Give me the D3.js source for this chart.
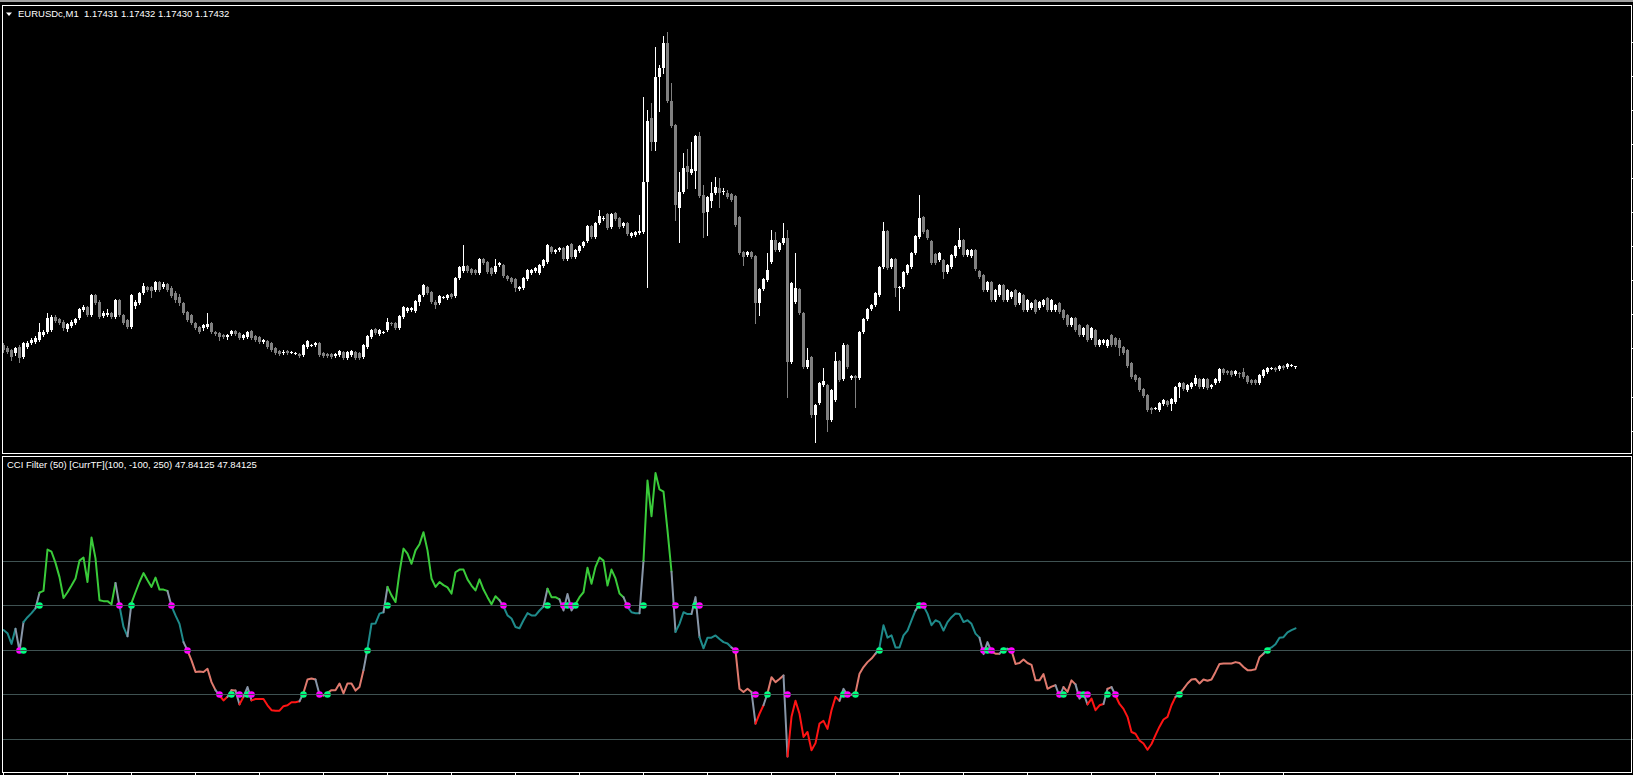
<!DOCTYPE html>
<html lang="en">
<head>
<meta charset="utf-8">
<title>EURUSDc,M1 - CCI Filter</title>
<script src="https://d3js.org/d3.v7.min.js"></script>
<style>
  html, body { margin: 0; padding: 0; background: #000; overflow: hidden; }
  svg { display: block; }
  text { font-family: "Liberation Sans", Arial, sans-serif; font-size: 9.5px; fill: #fff; }
</style>
</head>
<body>
<script>
// M1 bars, prices kept as points (0.00001) above 1.17000
var base = 1.17;

var opens = [
  453,450,448,445,451,441,451,455,456,458, 463,466,468,481,479,476,469,472,475,480,
  488,491,483,503,496,482,483,485,481,498, 483,478,471,492,495,505,511,511,508,516,
  511,514,510,505,501,495,486,483,475,471, 470,471,475,466,465,463,461,464,467,465,
  460,461,467,462,461,456,457,455,450,447, 445,447,446,445,444,443,451,453,453,455,
  445,444,444,442,443,446,440,443,446,445, 441,451,461,469,464,466,468,475,475,470,
  481,487,488,487,496,503,511,506,496,495, 501,500,504,502,520,527,532,529,528,525,
  539,536,530,526,533,533,522,520,519,509, 510,519,525,527,525,532,536,551,546,548,
  550,539,554,541,547,552,557,572,561,575, 580,584,571,585,580,572,575,562,563,565,
  566,616,680,656,721,730,755,697,673,590, 606,632,625,627,662,603,586,597,605,610,
  607,605,604,602,581,546,543,546,542,495, 509,518,536,558,548,555,560,436,496,509,
  485,431,441,383,395,413,413,378,398,437, 419,453,420,422,420,466,479,489,493,503,
  531,567,531,539,510,511,525,531,545,561, 581,568,557,544,538,538,526,531,542,551,
  558,543,542,548,527,523,508,516,498,503, 513,498,501,508,495,503,488,490,498,490,
  493,500,488,488,495,488,483,473,480,473, 463,473,460,468,453,455,452,463,460,458,
  451,448,435,423,420,409,403,390,390,388, 394,397,394,396,411,415,408,411,414,419,
  411,419,411,415,417,429,427,427,424,425, 426,422,418,418,415,422,426,430,430,429,
  432,431,433,431
];
var highs = [
  455,452,449,451,453,456,457,460,462,475, 468,485,483,483,480,478,475,478,480,490,
  493,492,504,504,498,487,489,486,499,499, 484,479,504,498,506,515,512,512,517,517,
  516,515,512,507,504,496,487,484,476,472, 474,485,476,467,466,464,464,468,468,466,
  464,467,468,463,462,459,458,456,451,448, 448,448,447,446,445,454,458,454,456,456,
  446,445,445,445,448,447,447,448,447,446, 454,463,469,470,469,467,480,476,476,483,
  492,491,491,498,504,514,512,507,498,503, 502,504,505,521,532,553,533,530,529,540,
  540,537,531,539,536,534,523,521,520,512, 521,529,529,531,534,539,554,552,549,551,
  551,553,555,549,553,557,573,573,576,588, 582,585,585,586,581,576,576,566,567,583,
  701,688,695,751,733,762,766,715,674,626, 645,649,656,663,666,613,602,616,621,620,
  610,608,605,603,582,547,547,547,543,510, 520,545,568,566,556,575,568,516,545,510,
  486,450,442,394,416,430,414,409,446,438, 455,454,423,423,467,480,490,494,506,532,
  576,568,540,540,512,527,534,546,563,603, 582,569,558,545,546,539,534,544,553,570,
  559,549,549,549,528,524,517,517,509,514, 514,509,507,509,506,504,499,496,499,497,
  499,501,499,494,496,489,484,481,481,474, 471,474,471,469,459,459,459,464,461,460,
  452,449,436,424,421,410,404,391,391,396, 399,398,400,412,416,416,414,416,423,420,
  420,420,414,420,430,430,428,428,428,426, 430,423,419,419,424,429,431,431,431,433,
  433,435,434,432
];
var lows = [
  446,445,438,443,436,440,450,454,455,457, 462,465,467,476,474,468,467,471,474,479,
  487,482,482,494,480,481,482,480,480,482, 474,470,470,490,494,504,507,501,507,507,
  510,507,501,496,493,484,477,474,469,465, 468,470,465,463,458,460,459,463,463,459,
  459,460,459,457,455,455,450,447,444,443, 444,444,445,444,441,442,450,452,452,442,
  441,441,440,441,442,439,439,442,439,439, 440,450,460,464,463,465,467,473,469,469,
  480,486,487,486,493,502,504,495,490,494, 500,499,500,501,519,526,526,524,524,524,
  534,525,523,525,532,521,518,515,507,508, 509,518,524,526,524,531,535,545,545,547,
  538,538,540,540,546,551,556,560,560,574, 578,569,570,578,570,571,563,561,562,564,
  565,511,648,648,687,725,696,671,578,556, 605,610,624,610,601,561,563,591,604,591,
  604,600,597,572,544,533,542,540,475,483, 508,517,535,547,547,554,401,435,495,484,
  430,430,381,356,394,412,367,377,397,417, 418,430,419,391,419,465,478,488,492,502,
  530,529,530,502,488,510,524,530,544,560, 565,559,534,534,537,520,525,530,541,550,
  542,542,541,528,520,507,507,497,497,502, 497,497,500,492,494,487,487,489,485,489,
  492,487,487,487,485,479,472,472,467,462, 462,457,459,452,452,454,451,452,452,443,
  444,431,420,417,407,401,387,385,389,387, 393,392,388,395,401,408,407,410,413,410,
  410,409,410,414,416,424,424,422,423,421, 420,415,414,414,414,421,425,429,427,428,
  429,430,432,430
];
var closes = [
  448,446,441,450,440,455,455,458,460,466, 466,480,481,477,475,470,474,476,479,489,
  491,483,503,495,481,485,485,481,498,483, 475,471,503,496,505,512,508,507,516,508,
  514,508,502,498,495,485,478,475,470,466, 473,474,466,464,461,461,463,467,464,460,
  463,466,460,458,456,458,451,448,445,444, 446,445,446,445,442,453,457,453,455,443,
  442,442,441,444,447,440,446,447,440,440, 453,462,468,465,468,466,476,474,470,482,
  491,490,490,497,503,513,505,496,493,502, 501,503,501,520,531,532,527,525,525,539,
  535,526,524,532,535,522,519,516,510,511, 520,528,528,530,533,538,553,546,548,550,
  539,552,541,548,552,556,572,561,575,582, 580,570,584,579,571,575,564,565,566,567,
  616,677,656,721,730,755,697,672,593,606, 630,626,629,662,602,585,601,605,611,605,
  607,601,598,573,545,541,546,541,495,509, 519,528,558,548,555,560,436,515,510,485,
  431,438,383,393,415,417,378,408,437,418, 453,431,422,420,466,479,489,493,505,531,
  567,530,539,510,511,526,533,545,562,580, 566,560,535,535,545,526,533,543,552,558,
  543,548,548,529,521,508,516,498,508,513, 498,508,506,493,505,488,498,495,486,496,
  498,488,498,493,486,480,473,480,468,463, 470,458,470,453,458,458,458,453,453,450,
  445,432,421,418,408,402,388,388,390,395, 398,393,399,411,415,409,413,415,420,411,
  419,410,413,419,429,425,425,423,427,424, 421,416,415,415,423,428,430,430,428,432,
  430,434,433,432
];

// CCI(50) value per bar
var cci = [
  44,37,13,47,-3,62,73,82,93,128, 132,225,220,195,163,116,129,144,160,200,
  207,152,252,205,111,109,109,102,150,98, 51,30,105,129,152,172,156,141,162,135,
  135,132,98,77,58,17,-2,-24,-50,-49, -50,-43,-73,-91,-103,-114,-106,-91,-92,-123,
  -106,-84,-114,-111,-111,-111,-125,-136,-137,-137, -127,-125,-118,-118,-116,-97,-67,-65,-67,-101,
  -103,-97,-91,-91,-76,-98,-76,-76,-92,-84, -46,2,58,59,81,84,141,122,107,174,
  227,216,193,223,237,264,223,160,141,152, 145,140,126,174,180,180,158,144,133,158,
  135,118,102,120,111,97,77,70,51,48, 66,82,77,77,88,97,137,118,118,113,
  88,125,88,102,118,129,184,148,186,207, 200,144,180,160,126,118,96,84,82,82,
  200,380,300,397,360,355,268,175,40,58, 84,80,80,118,28,3,27,27,32,24,
  17,14,5,-2,-88,-95,-88,-95,-166,-144, -125,-98,-62,-73,-66,-58,-240,-151,-115,-144,
  -196,-185,-226,-210,-166,-160,-178,-136,-106,-115, -88,-103,-101,-97,-54,-39,-28,-20,-9,5,
  55,27,32,5,5,32,43,66,88,102, 98,81,55,66,62,43,62,73,81,80,
  62,66,58,36,27,-10,17,-5,-9,-9, 2,2,-2,-32,-30,-22,-30,-34,-69,-69,
  -55,-88,-83,-80,-105,-84,-95,-69,-78,-110, -98,-123,-110,-136,-125,-122,-88,-84,-103,-122,
  -133,-151,-185,-189,-204,-211,-225,-212,-192,-173, -157,-151,-125,-106,-99,-88,-76,-67,-66,-76,
  -67,-70,-67,-50,-32,-31,-31,-31,-28,-30, -39,-46,-46,-44,-17,-9,1,5,12,27,
  28,39,44,47.84125
];

var cciLevels = [200, 100, 0, -100, -200];
var signalLevels = [100, 0, -100];
var timeTickBars = [0, 16, 32, 48, 64, 80, 96, 112, 128, 144, 160, 176, 192, 208, 224, 240, 256, 272, 288, 304, 320];
var priceTicks = [1.17756, 1.17722, 1.17688, 1.17654, 1.17620, 1.17586, 1.17552, 1.17518, 1.17484, 1.17450, 1.17401, 1.17367];

var mainTitle = "EURUSDc,M1  1.17431 1.17432 1.17430 1.17432";
var cciTitle = "CCI Filter (50) [CurrTF](100, -100, 250) 47.84125 47.84125";

var W = 1633, H = 775;
var n = closes.length;

var svg = d3.select("body").append("svg")
  .attr("width", W)
  .attr("height", H);

// window chrome strip on top
svg.append("rect").attr("x", 0).attr("y", 0).attr("width", W).attr("height", 2).attr("fill", "#a0a0a0");

// scales
var x = d3.scaleLinear().domain([0, n - 1]).range([3, 3 + 4 * (n - 1)]);
var yPrice = d3.scaleLinear().domain([1.173445, 1.177925]).range([453.5, 5.5]);
var yCci = d3.scaleLinear().domain([-276, 434]).range([772.5, 456.5]);

var bars = d3.range(n).map(function(i) {
  return {
    i: i,
    o: base + opens[i] / 1e5,
    h: base + highs[i] / 1e5,
    l: base + lows[i] / 1e5,
    c: base + closes[i] / 1e5
  };
});

// ---- main panel: candles
var gMain = svg.append("g");
gMain.selectAll("line.wick")
  .data(bars)
  .enter()
  .append("line")
  .attr("class", "wick")
  .attr("x1", function(d) { return x(d.i) + 0.5; })
  .attr("x2", function(d) { return x(d.i) + 0.5; })
  .attr("y1", function(d) { return Math.round(yPrice(d.h)); })
  .attr("y2", function(d) { return Math.round(yPrice(d.l)) + 1; })
  .attr("stroke", function(d) { return d.c >= d.o ? "#ffffff" : "#808080"; })
  .attr("stroke-width", 1);

gMain.selectAll("rect.body")
  .data(bars)
  .enter()
  .append("rect")
  .attr("class", "body")
  .attr("x", function(d) { return x(d.i) - 1; })
  .attr("width", 3)
  .attr("y", function(d) { return Math.round(yPrice(Math.max(d.o, d.c))); })
  .attr("height", function(d) {
    var t = Math.round(yPrice(Math.max(d.o, d.c)));
    var b = Math.round(yPrice(Math.min(d.o, d.c)));
    return Math.max(1, b - t);
  })
  .attr("fill", function(d) { return d.c >= d.o ? "#ffffff" : "#808080"; });

// price scale ticks at the right edge
svg.append("g")
  .attr("transform", "translate(1631,0)")
  .call(d3.axisRight(yPrice).tickValues(priceTicks).tickSize(3).tickFormat(""))
  .call(function(g) { g.select(".domain").remove(); })
  .selectAll("line").attr("stroke", "#ffffff");

// ---- CCI panel
var gCci = svg.append("g");
gCci.selectAll("line.level")
  .data(cciLevels)
  .enter()
  .append("line")
  .attr("class", "level")
  .attr("x1", 3)
  .attr("x2", W)
  .attr("y1", function(d) { return Math.round(yCci(d)) + 0.5; })
  .attr("y2", function(d) { return Math.round(yCci(d)) + 0.5; })
  .attr("stroke", "#3f5252")
  .attr("stroke-width", 1);

function band(v) {
  if (v > 100) return 3;
  if (v > 0) return 2;
  if (v > -100) return 1;
  return 0;
}
var bandColors = ["#ff1414", "#e07a6e", "#1f8b8b", "#3acb3a"];
var crossColor = "#8896a8";

var segs = [];
for (var i = 1; i < n; i++) {
  var b0 = band(cci[i - 1]), b1 = band(cci[i]);
  var col = b0 === b1 ? bandColors[b1] : crossColor;
  var last = segs[segs.length - 1];
  if (last && last.color === col) {
    last.pts.push(i);
  } else {
    segs.push({ color: col, pts: [i - 1, i] });
  }
}

var cciLine = d3.line()
  .x(function(i) { return x(i) + 0.5; })
  .y(function(i) { return yCci(cci[i]); });

gCci.selectAll("path.cci")
  .data(segs)
  .enter()
  .append("path")
  .attr("class", "cci")
  .attr("d", function(s) { return cciLine(s.pts); })
  .attr("fill", "none")
  .attr("stroke", function(s) { return s.color; })
  .attr("stroke-width", 2)
  .attr("stroke-linejoin", "round")
  .attr("stroke-linecap", "round");

// crossing markers
var marks = [];
for (var j = 1; j < n; j++) {
  signalLevels.forEach(function(L) {
    if (cci[j - 1] < L && cci[j] >= L) marks.push({ i: j, level: L, up: true });
    else if (cci[j - 1] > L && cci[j] <= L) marks.push({ i: j, level: L, up: false });
  });
}
var gMarks = gCci.selectAll("g.mark")
  .data(marks)
  .enter()
  .append("g")
  .attr("class", "mark")
  .attr("transform", function(d) { return "translate(" + (x(d.i) + 0.5) + "," + (Math.round(yCci(d.level)) + 0.5) + ")"; });
gMarks.append("circle")
  .attr("r", 3.3)
  .attr("fill", function(d) { return d.up ? "#00ff7f" : "#ff00ff"; });
gMarks.append("line")
  .attr("x1", -3.3).attr("x2", 3.3)
  .attr("y1", 0).attr("y2", 0)
  .attr("stroke", "#3f5252")
  .attr("stroke-width", 1);

// ---- frames
svg.append("rect")
  .attr("x", 2.5).attr("y", 5.5).attr("width", 1629).attr("height", 448)
  .attr("fill", "none").attr("stroke", "#ffffff").attr("stroke-width", 1);
svg.append("rect")
  .attr("x", 2.5).attr("y", 456.5).attr("width", 1629).attr("height", 316)
  .attr("fill", "none").attr("stroke", "#ffffff").attr("stroke-width", 1);

// time axis ticks below the indicator window
svg.append("g")
  .attr("transform", "translate(0,772)")
  .call(d3.axisBottom(x).tickValues(timeTickBars).tickSize(3).tickFormat(""))
  .call(function(g) { g.select(".domain").remove(); })
  .selectAll("line").attr("stroke", "#ffffff");

// ---- labels
svg.append("path")
  .attr("d", "M6,12.5 L12,12.5 L9,16 Z")
  .attr("fill", "#ffffff");
svg.append("text")
  .attr("x", 18)
  .attr("y", 17.3)
  .style("white-space", "pre")
  .text(mainTitle);
svg.append("text")
  .attr("x", 7)
  .attr("y", 468.3)
  .style("white-space", "pre")
  .text(cciTitle);
</script>
</body>
</html>
